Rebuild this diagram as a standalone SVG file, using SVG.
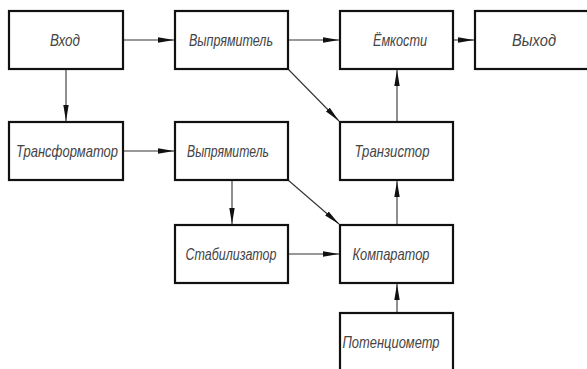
<svg xmlns="http://www.w3.org/2000/svg" width="587" height="369" viewBox="0 0 587 369">
<style>
.box{fill:#fff;stroke:#111;stroke-width:2.2}
.lbl{font-family:"Liberation Sans",Arial,sans-serif;font-style:italic;font-size:16.5px;fill:#444;text-anchor:middle}
.con{stroke:#333;stroke-width:1.1;fill:none;marker-end:url(#ah)}
</style>
<defs>
<marker id="ah" markerUnits="userSpaceOnUse" markerWidth="17" markerHeight="6" refX="16" refY="3" orient="auto">
<path d="M0,0.3 L16,3 L0,5.7 z" fill="#111"/>
</marker>
</defs>
<rect width="587" height="369" fill="#fff"/>
<g id="connectors">
<line class="con" x1="123" y1="40" x2="174" y2="40"/>
<line class="con" x1="288" y1="40" x2="339" y2="40"/>
<line class="con" x1="453" y1="40" x2="474" y2="40"/>
<line class="con" x1="66" y1="69" x2="66" y2="121"/>
<line class="con" x1="123" y1="151" x2="174" y2="151"/>
<line class="con" x1="288" y1="69" x2="339" y2="121"/>
<line class="con" x1="397" y1="122" x2="397" y2="70"/>
<line class="con" x1="232" y1="180" x2="232" y2="224"/>
<line class="con" x1="288" y1="180" x2="339" y2="224"/>
<line class="con" x1="288" y1="254" x2="339" y2="254"/>
<line class="con" x1="397" y1="225" x2="397" y2="181"/>
<line class="con" x1="397" y1="313" x2="397" y2="284"/>
</g>
<g id="vhod"><rect class="box" x="9" y="11" width="114" height="58"/><text class="lbl" x="65" y="46" textLength="30" lengthAdjust="spacingAndGlyphs">Вход</text></g>
<g id="vypr1"><rect class="box" x="175" y="11" width="113" height="58"/><text class="lbl" x="231" y="46" textLength="84" lengthAdjust="spacingAndGlyphs">Выпрямитель</text></g>
<g id="emkosti"><rect class="box" x="340" y="11" width="113" height="58"/><text class="lbl" x="400" y="46" textLength="54" lengthAdjust="spacingAndGlyphs">Ёмкости</text></g>
<g id="vyhod"><rect class="box" x="475" y="11" width="120" height="58"/><text class="lbl" x="534" y="46" textLength="44" lengthAdjust="spacingAndGlyphs">Выход</text></g>
<g id="trans"><rect class="box" x="9" y="122" width="114" height="58"/><text class="lbl" x="67" y="157" textLength="102" lengthAdjust="spacingAndGlyphs">Трансформатор</text></g>
<g id="vypr2"><rect class="box" x="175" y="122" width="113" height="58"/><text class="lbl" x="228" y="157" textLength="82" lengthAdjust="spacingAndGlyphs">Выпрямитель</text></g>
<g id="tranzistor"><rect class="box" x="340" y="122" width="113" height="58"/><text class="lbl" x="392" y="157" textLength="75" lengthAdjust="spacingAndGlyphs">Транзистор</text></g>
<g id="stab"><rect class="box" x="175" y="225" width="113" height="58"/><text class="lbl" x="231" y="260" textLength="91" lengthAdjust="spacingAndGlyphs">Стабилизатор</text></g>
<g id="komp"><rect class="box" x="340" y="225" width="113" height="58"/><text class="lbl" x="391" y="260" textLength="77" lengthAdjust="spacingAndGlyphs">Компаратор</text></g>
<g id="poten"><rect class="box" x="340" y="313" width="113" height="70"/><text class="lbl" x="391" y="348" textLength="97" lengthAdjust="spacingAndGlyphs">Потенциометр</text></g>
</svg>
